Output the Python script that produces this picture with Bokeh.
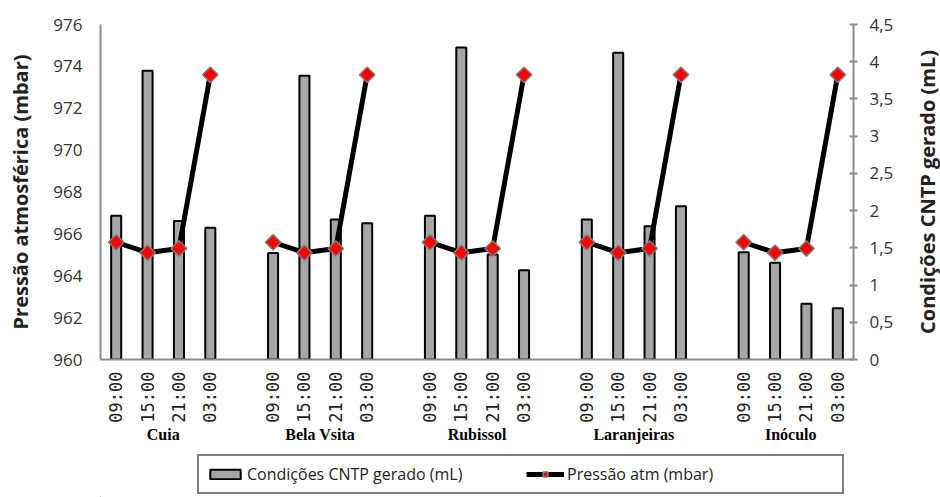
import numpy as np
from bokeh.plotting import figure
from bokeh.layouts import column, row
from bokeh.models import (FactorRange, Range1d, LinearAxis, FixedTicker,
                          Legend, LegendItem)
from bokeh.embed import file_html
from bokeh.resources import INLINE

# Sampling sites and reading times
SITES = ["Cuia", "Bela Vsita", "Rubissol", "Laranjeiras", "Inóculo"]
TIMES = ["09:00", "15:00", "21:00", "03:00"]

# Gas volume under CNTP conditions (mL), one value per reading time
GAS_CUIA = [1.93, 3.88, 1.86, 1.77]
GAS_BELA_VSITA = [1.43, 3.81, 1.88, 1.83]
GAS_RUBISSOL = [1.93, 4.19, 1.41, 1.20]
GAS_LARANJEIRAS = [1.88, 4.12, 1.79, 2.06]
GAS_INOCULO = [1.44, 1.30, 0.75, 0.69]

# Atmospheric pressure (mbar) at each reading time
PRESSURE_MBAR = [965.6, 965.1, 965.3, 973.6]

# Axis ticks
LEFT_TICKS = [960, 962, 964, 966, 968, 970, 972, 974, 976]
RIGHT_TICKS = [0, 0.5, 1, 1.5, 2, 2.5, 3, 3.5, 4, 4.5]
RIGHT_TICK_LABELS = ["0", "0,5", "1", "1,5", "2", "2,5", "3", "3,5", "4", "4,5"]

LEFT_TITLE = "Pressão atmosférica (mbar)"
RIGHT_TITLE = "Condições CNTP gerado (mL)"

gas_by_site = [GAS_CUIA, GAS_BELA_VSITA, GAS_RUBISSOL, GAS_LARANJEIRAS, GAS_INOCULO]

factors = [(s, t) for s in SITES for t in TIMES]
gas_values = [v for series in gas_by_site for v in series]

AXIS_GRAY = "#8c8c8c"
TICK_FONT = "Open Sans"

BAR_STYLE = dict(fill_color="#a6a6a6", line_color="black", line_width=2)
LINE_STYLE = dict(line_color="black", line_width=5)
MARK_STYLE = dict(marker="square", angle=np.pi / 4, size=11,
                  fill_color="#ff0000", line_color="#7f7f7f", line_width=1.5)


def style_title(ax, text, standoff):
    ax.axis_label = text
    ax.axis_label_text_font = TICK_FONT
    ax.axis_label_text_font_style = "bold"
    ax.axis_label_text_font_size = "20px"
    ax.axis_label_text_color = "#222222"
    ax.axis_label_standoff = standoff


p = figure(
    x_range=FactorRange(*factors, group_padding=1.0, range_padding=0),
    y_range=Range1d(960, 976),
    width=912, height=451,
    output_backend="svg", toolbar_location=None,
    min_border_left=100, min_border_right=59,
    min_border_top=24, min_border_bottom=92,
)
p.extra_y_ranges = {"gas": Range1d(0, 4.5)}
p.xgrid.visible = False
p.ygrid.visible = False
p.outline_line_color = None
p.background_fill_color = "white"
p.border_fill_color = "white"

# Bars: gas volume on the secondary axis
p.vbar(x=factors, top=gas_values, width=0.32, y_range_name="gas", **BAR_STYLE)

# Pressure line, one segment per site
for s in SITES:
    xs = [(s, t) for t in TIMES]
    p.line(x=xs, y=PRESSURE_MBAR, **LINE_STYLE)
    p.scatter(x=xs, y=PRESSURE_MBAR, **MARK_STYLE)

# Left axis (pressure)
yl = p.yaxis[0]
yl.ticker = FixedTicker(ticks=LEFT_TICKS)
style_title(yl, LEFT_TITLE, 16)
yl.major_label_text_font = TICK_FONT
yl.major_label_text_font_size = "17px"
yl.major_label_text_color = "#333333"
yl.major_label_standoff = 12
yl.major_tick_line_color = None
yl.minor_tick_line_color = None
yl.axis_line_color = AXIS_GRAY
yl.axis_line_width = 2

# Right axis (gas volume); its title is drawn by the strip on the far right
yr = LinearAxis(y_range_name="gas")
yr.ticker = FixedTicker(ticks=RIGHT_TICKS)
yr.major_label_overrides = dict(zip(RIGHT_TICKS, RIGHT_TICK_LABELS))
yr.major_label_text_font = TICK_FONT
yr.major_label_text_font_size = "17px"
yr.major_label_text_color = "#333333"
yr.major_label_standoff = 12
yr.major_tick_in = 4
yr.major_tick_out = 4
yr.major_tick_line_color = AXIS_GRAY
yr.major_tick_line_width = 2
yr.minor_tick_line_color = None
yr.axis_line_color = AXIS_GRAY
yr.axis_line_width = 2
p.add_layout(yr, "right")

# Category axis: times and site names
xa = p.xaxis[0]
xa.major_label_orientation = np.pi / 2
xa.major_label_text_font = "DejaVu Sans Mono"
xa.major_label_text_font_size = "17px"
xa.major_label_text_color = "#222222"
xa.major_tick_out = 12
xa.major_label_standoff = 0
xa.group_text_font = "Liberation Serif"
xa.group_text_font_style = "bold"
xa.group_text_font_size = "16px"
xa.group_text_color = "black"
xa.separator_line_color = None
xa.major_tick_line_color = None
xa.minor_tick_line_color = None
xa.axis_line_color = AXIS_GRAY
xa.axis_line_width = 2

# Legend strip underneath the chart (sample glyphs sit outside its range)
lg = figure(
    width=912, height=46, x_range=Range1d(0, 1), y_range=Range1d(0, 1),
    output_backend="svg", toolbar_location=None,
    x_axis_type=None, y_axis_type=None, min_border=0,
)
lg.xgrid.visible = False
lg.ygrid.visible = False
lg.outline_line_color = None
lg.border_fill_color = "white"
lg_bar = lg.vbar(x=[-5], top=[-5], width=0.1, **BAR_STYLE)
lg_line = lg.line(x=[-6, -5], y=[-5, -5], **LINE_STYLE)
lg_mark = lg.scatter(x=[-5], y=[-5], **MARK_STYLE)

legend = Legend(
    items=[
        LegendItem(label="Condições CNTP gerado (mL)", renderers=[lg_bar]),
        LegendItem(label="Pressão atm (mbar)", renderers=[lg_line, lg_mark]),
    ],
    orientation="horizontal",
    location=(97, 3),
    border_line_color="black", border_line_width=2,
    background_fill_color="white", background_fill_alpha=1,
    padding=7, spacing=11, margin=0,
    glyph_width=38, glyph_height=12, label_standoff=3, label_width=268,
    label_text_font=TICK_FONT, label_text_font_size="16px",
    label_text_color="#222222",
)
lg.add_layout(legend, "center")

# Narrow strip on the right carrying the secondary axis title
ttl = figure(
    width=28, height=497, x_range=Range1d(0, 1), y_range=Range1d(0, 1),
    output_backend="svg", toolbar_location=None, x_axis_type=None,
    min_border_left=27, min_border_right=0,
    min_border_top=24, min_border_bottom=138,
)
ttl.xgrid.visible = False
ttl.ygrid.visible = False
ttl.outline_line_color = None
ttl.border_fill_color = "white"
ta = ttl.yaxis[0]
ta.ticker = FixedTicker(ticks=[])
ta.major_tick_in = 0
ta.major_tick_out = 0
ta.major_label_standoff = 0
ta.major_tick_line_color = None
ta.minor_tick_line_color = None
ta.axis_line_color = None
style_title(ta, RIGHT_TITLE, 0)

layout = row(column(p, lg, spacing=0), ttl, spacing=0)
open("out.html", "w").write(file_html(layout, INLINE))
